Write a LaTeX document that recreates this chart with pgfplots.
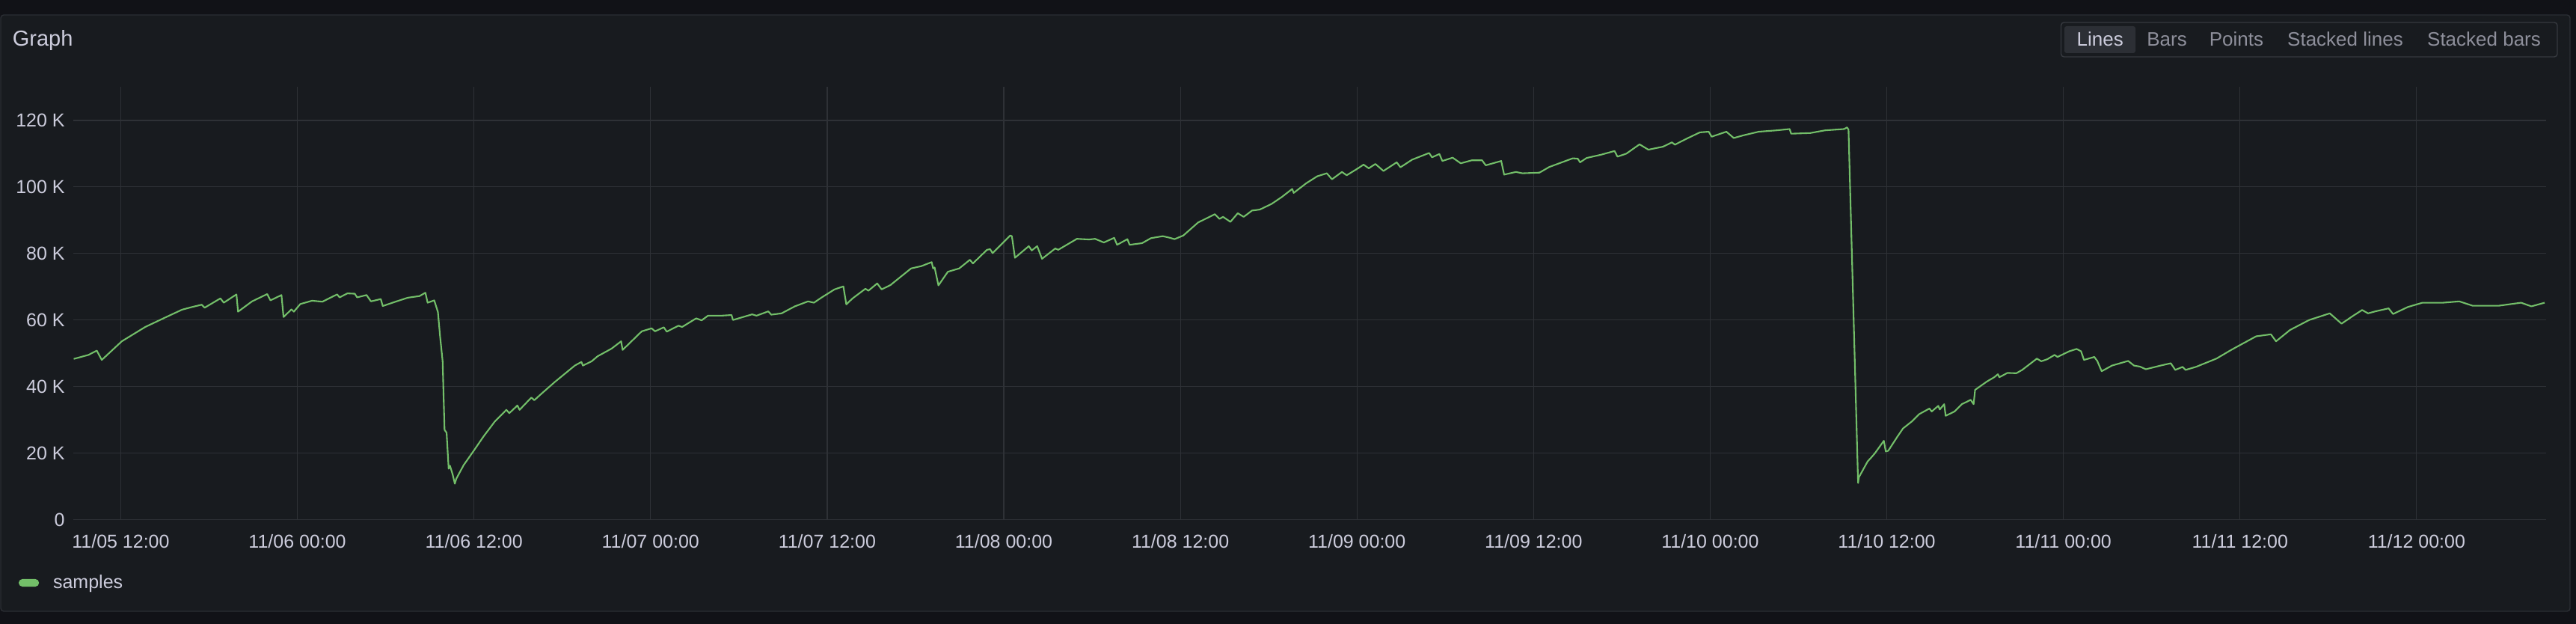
\documentclass[border=0pt]{standalone}
\usepackage{fontspec}
\setmainfont{Liberation Sans}
\usepackage{pgfplots}
\pgfplotsset{compat=1.18}
\definecolor{canvas}{HTML}{111217}
\definecolor{panel}{HTML}{181B1F}
\definecolor{panelborder}{HTML}{2B2E34}
\definecolor{gridc}{HTML}{2E3136}
\definecolor{txt}{HTML}{CCCCDC}
\definecolor{txtb}{HTML}{8E8F9B}
\definecolor{linegreen}{HTML}{73BF69}
\definecolor{btnbg}{HTML}{2C2F35}
\definecolor{btnborder}{HTML}{36393F}
\pgfplotstableread{
t v
8.8 48.3
9.8 49.5
10.37 50.8
10.71 48.0
12.07 53.6
13.66 57.9
14.9 60.5
16.16 63.1
16.84 63.9
17.5 64.6
17.7 63.7
18.77 66.5
19.0 65.2
19.86 67.7
19.97 62.5
20.92 65.6
21.95 67.8
22.17 65.9
22.92 67.5
23.06 60.9
23.6 63.2
23.76 62.5
24.2 64.8
25.0 65.8
25.7 65.5
26.7 67.7
26.87 66.8
27.4 68.0
27.9 67.9
28.06 66.8
28.7 67.5
29.0 65.6
29.67 66.3
29.8 64.2
30.6 65.4
31.5 66.7
32.3 67.2
32.7 68.2
32.85 65.2
33.3 65.9
33.55 62.4
33.7 55.0
33.87 47.6
34.0 27.0
34.14 26.1
34.28 15.3
34.37 16.2
34.55 13.6
34.7 10.8
34.8 12.3
35.3 16.4
36.0 20.8
36.65 25.0
37.4 29.4
38.2 33.0
38.4 32.0
38.95 34.3
39.1 33.0
39.9 36.7
40.1 35.9
40.6 37.9
41.5 41.4
42.85 46.3
43.3 47.4
43.4 46.3
44.0 47.6
44.4 49.1
45.35 51.4
46.0 53.6
46.1 51.0
47.4 56.6
48.07 57.5
48.3 56.6
48.9 57.8
49.1 56.5
49.9 58.3
50.14 57.9
51.1 60.5
51.47 59.9
51.9 61.3
52.8 61.3
53.5 61.5
53.6 60.0
54.9 61.7
55.2 61.3
56.0 62.6
56.2 61.6
56.9 62.0
57.8 64.1
58.7 65.6
59.1 65.2
59.6 66.7
60.5 69.2
61.1 70.1
61.3 64.7
61.7 66.4
62.6 69.4
62.8 68.8
63.4 71.0
63.7 69.2
64.3 70.5
64.97 72.9
65.7 75.5
66.4 76.2
67.1 77.4
67.2 75.5
67.3 75.8
67.56 70.4
68.2 74.5
68.97 75.5
69.7 78.1
69.9 77.0
70.86 81.1
71.07 81.3
71.24 80.1
72.44 85.4
72.55 85.2
72.76 78.7
73.7 82.2
73.9 80.9
74.27 82.2
74.6 78.4
75.5 81.5
75.7 81.1
76.97 84.4
77.8 84.2
78.2 84.4
78.8 83.3
79.5 84.7
79.7 82.6
80.4 84.3
80.55 82.6
81.4 83.1
82.0 84.6
82.8 85.2
83.3 84.7
83.6 84.3
84.2 85.4
85.2 89.3
86.34 91.8
86.66 90.4
86.9 91.0
87.4 89.5
87.9 92.1
88.3 91.0
88.87 92.9
89.4 93.2
90.2 94.9
90.9 97.0
91.6 99.4
91.7 98.2
92.55 101.1
93.3 103.2
93.95 104.1
94.3 102.3
94.98 104.5
95.3 103.5
96.0 105.4
96.45 106.7
96.8 105.6
97.25 106.9
97.8 104.8
98.7 107.4
98.95 105.9
99.75 108.2
100.9 110.2
101.1 108.9
101.6 109.9
101.8 107.8
102.5 108.8
103.05 107.1
103.8 108.0
104.5 108.0
104.75 106.5
105.8 107.8
106.0 103.7
106.8 104.5
107.25 104.1
108.4 104.3
109.07 106.0
110.66 108.6
111.0 108.5
111.16 107.4
111.6 108.7
112.6 109.7
113.5 110.8
113.7 109.1
114.3 110.0
115.2 112.8
115.8 111.2
116.8 112.1
117.4 113.4
117.6 112.7
118.4 114.5
119.3 116.4
119.9 116.6
120.1 115.1
121.1 116.6
121.6 114.7
122.25 115.5
123.3 116.6
124.5 117.0
125.4 117.4
125.5 116.0
126.8 116.2
127.8 117.0
129.1 117.4
129.3 117.9
129.4 117.2
130.05 11.0
130.1 12.7
130.7 17.5
130.96 18.75
131.2 20.0
131.8 23.7
131.93 20.5
132.1 20.7
132.7 24.8
133.1 27.4
133.7 29.5
134.2 31.7
134.9 33.4
135.05 32.5
135.5 34.2
135.6 33.1
135.9 34.7
136.0 31.2
136.6 32.5
137.1 34.7
137.7 36.0
137.9 34.7
138.0 39.0
138.8 41.5
139.3 42.8
139.55 43.7
139.65 42.8
140.2 44.1
140.8 44.0
141.2 45.0
142.2 48.4
142.5 47.6
142.9 48.2
143.4 49.5
143.6 48.9
144.4 50.6
144.9 51.3
145.2 50.6
145.4 48.0
146.1 48.9
146.3 47.7
146.6 44.6
147.3 46.3
148.4 47.7
148.8 46.3
149.2 46.0
149.6 45.2
150.6 46.3
151.3 47.0
151.6 45.0
152.1 45.9
152.3 45.0
153.0 45.9
154.4 48.4
154.9 49.7
155.4 51.0
156.1 52.7
157.1 55.1
158.1 55.7
158.45 53.6
159.4 57.0
160.7 60.0
162.1 62.0
162.9 58.9
163.7 61.3
164.3 63.0
164.7 62.0
165.2 62.6
166.1 63.5
166.4 61.8
167.4 63.9
168.4 65.2
169.8 65.2
170.9 65.6
171.8 64.3
173.6 64.3
175.1 65.2
175.8 64.1
176.7 65.2
}\samples
\begin{document}
\begin{tikzpicture}
\useasboundingbox (0pt,0pt) rectangle (1722pt,417pt);
\fill[canvas] (0pt,0pt) rectangle (1722pt,417pt);
\filldraw[fill=panel, draw=panelborder, line width=0.7pt, rounded corners=2pt] (0.5pt,8.5pt) rectangle (1718pt,407pt);
\node[anchor=base west, inner sep=0pt, text=txt, font=\fontsize{14.5pt}{17pt}\selectfont] at (8.25pt,386.4pt) {Graph};
\draw[btnborder, line width=0.7pt, rounded corners=2pt] (1377.75pt,379pt) rectangle (1709.5pt,402pt);
\fill[btnbg, rounded corners=1.5pt] (1380pt,381.5pt) rectangle (1427.5pt,399.5pt);
\begin{scope}[every node/.style={inner sep=0pt, font=\fontsize{13pt}{15pt}\selectfont}]
\node[text=txt] at (1403.85pt,390.65pt) {Lines};
\node[text=txtb] at (1448.5pt,390.65pt) {Bars};
\node[text=txtb] at (1495pt,390.65pt) {Points};
\node[text=txtb] at (1567.75pt,390.65pt) {Stacked lines};
\node[text=txtb] at (1660.5pt,390.65pt) {Stacked bars};
\end{scope}
\begin{axis}[
  at={(49.25pt,69.75pt)}, anchor=south west,
  scale only axis, width=1652.75pt, height=289.25pt,
  xmin=8.8, xmax=176.8, ymin=0, ymax=130.1,
  axis line style={draw=none},
  xtick={12,24,...,168},
  xticklabels={11/05 12:00,11/06 00:00,11/06 12:00,11/07 00:00,11/07 12:00,11/08 00:00,11/08 12:00,11/09 00:00,11/09 12:00,11/10 00:00,11/10 12:00,11/11 00:00,11/11 12:00,11/12 00:00},
  ytick={0,20,...,120},
  yticklabels={0,20 K,40 K,60 K,80 K,100 K,120 K},
  grid=major,
  major grid style={gridc, line width=0.6pt},
  major tick length=0pt,
  tick style={draw=none},
  /pgf/number format/assume math mode=true,
  ticklabel style={text=txt, font=\fontsize{12.5pt}{15pt}\selectfont},
  xticklabel style={anchor=north, inner sep=0pt, yshift=-9.75pt},
  yticklabel style={anchor=east, inner sep=0pt, xshift=-5.75pt},
  legend style={at={(axis description cs:0,0)}, anchor=west, xshift=-36.75pt, yshift=-42.25pt,
    draw=none, fill=none, inner sep=0pt, outer sep=0pt, column sep=9.5pt,
    nodes={inner sep=0pt, text=txt}, font=\fontsize{12.5pt}{15pt}\selectfont},
  legend image code/.code={\fill[linegreen, rounded corners=2pt] (0pt,-2pt) rectangle (12.5pt,2pt);},
]
\pgfplotsinvokeforeach{12,24,...,168}{\draw[gridc, line width=0.6pt] (axis cs:#1,0) -- ++(0pt,-4.5pt);}
\addplot[linegreen, line width=1.05pt, line join=round, no markers] table[x=t, y=v] {\samples};
\addlegendentry{samples}
\end{axis}
\end{tikzpicture}
\end{document}
